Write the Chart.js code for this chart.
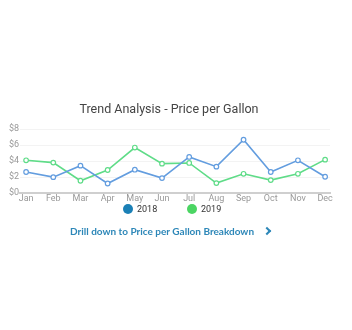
<!DOCTYPE html>
<html>
<head>
<meta charset="utf-8">
<script src="https://cdn.jsdelivr.net/npm/chart.js@4"></script>
<style>
  body { margin: 0; background: #fff; }
  #wrap { position: relative; width: 352px; height: 330px; }
  #box { position: absolute; left: 0; top: 0; width: 352px; height: 204px; }
  #legend { position: absolute; top: 203px; left: 0; width: 352px; height: 12px;
            font-family: Roboto, sans-serif; font-size: 9px; color: #333; }
  #legend span { position: absolute; top: 0; line-height: 12px; }
  #legend i { display: inline-block; width: 10px; height: 10px; border-radius: 50%;
              vertical-align: middle; margin-right: 4px; position: relative; top: -1px; }
  #link { position: absolute; left: 70px; top: 225px; white-space: nowrap;
          font-family: Lato, "Open Sans", sans-serif; font-weight: bold; font-size: 10px;
          line-height: 12px; color: #2d87b8; }
  .chev { display: inline-block; width: 4px; height: 4px; margin-left: 10px;
          border-right: 2px solid #2d87b8; border-top: 2px solid #2d87b8;
          transform: rotate(45deg); position: relative; top: -1px; }
</style>
</head>
<body>
<div id="wrap">
  <div id="box"><canvas id="chart"></canvas></div>
  <div id="legend"></div>
  <div id="link">Drill down to Price per Gallon Breakdown<span class="chev"></span></div>
</div>
<script>
// data
let months = ["Jan", "Feb", "Mar", "Apr", "May", "Jun", "Jul", "Aug", "Sep", "Oct", "Nov", "Dec"];
let seriesNames = ["2018", "2019"];
let price2018 = [2.64, 2.0, 3.43, 1.21, 2.93, 1.88, 4.52, 3.31, 6.66, 2.64, 4.1, 2.05];
let price2019 = [4.1, 3.81, 1.55, 2.89, 5.69, 3.68, 3.77, 1.26, 2.42, 1.63, 2.42, 4.18];
let yTicks = [0, 2, 4, 6, 8];

let lineColors = ["#639ddf", "#5fdc88"];
let legendColors = ["#1b80b6", "#4bd563"];

function toPoints(arr) {
    return arr.map((v, i) => ({ x: i, y: v }));
}

let chart = new Chart(document.getElementById("chart").getContext("2d"), {
    type: "line",
    data: {
        datasets: [price2018, price2019].map((arr, i) => ({
            label: seriesNames[i],
            data: toPoints(arr),
            borderColor: lineColors[i],
            backgroundColor: "#fff",
            borderWidth: 1.6,
            pointRadius: 2.3,
            pointBorderWidth: 1.2,
            pointBorderColor: lineColors[i],
            tension: 0
        }))
    },
    options: {
        responsive: true,
        maintainAspectRatio: false,
        animation: false,
        layout: { padding: { top: 102, left: 8, right: 22, bottom: 0 } },
        plugins: {
            tooltip: { enabled: false },
            legend: { display: false },
            title: {
                display: true,
                text: "Trend Analysis - Price per Gallon",
                color: "#444",
                font: { family: "Roboto", size: 12.5, weight: "normal" },
                padding: { top: 0, bottom: 12 }
            }
        },
        scales: {
            x: {
                type: "linear",
                min: -0.22,
                max: 11.18,
                afterBuildTicks: function(axis) {
                    axis.ticks = months.map((m, i) => ({ value: i }));
                },
                ticks: {
                    autoSkip: false,
                    maxRotation: 0,
                    padding: 0,
                    color: "#999",
                    font: { family: "Roboto", size: 9 },
                    callback: function(v) { return months[v]; }
                },
                grid: { display: false, drawTicks: false },
                border: { display: true, color: "#cfcfcf", width: 2 }
            },
            y: {
                min: 0,
                max: 8,
                afterBuildTicks: function(axis) {
                    axis.ticks = yTicks.map(v => ({ value: v }));
                },
                ticks: {
                    padding: 1,
                    color: "#999",
                    font: { family: "Roboto", size: 9 },
                    callback: function(v) { return "$" + v; }
                },
                grid: { color: "#f3f3f3", drawTicks: false },
                border: { display: false }
            }
        }
    }
});

// legend under the chart
let legendX = [123, 187];
let legend = document.getElementById("legend");
seriesNames.forEach((name, i) => {
    let item = document.createElement("span");
    item.style.left = legendX[i] + "px";
    item.innerHTML = '<i style="background:' + legendColors[i] + '"></i>' + name;
    legend.appendChild(item);
});
</script>
</body>
</html>
